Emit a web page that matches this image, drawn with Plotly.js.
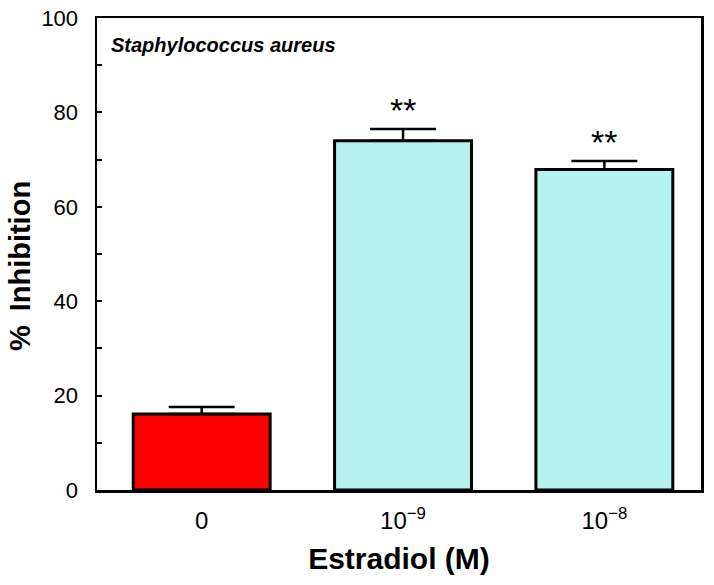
<!DOCTYPE html>
<html>
<head>
<meta charset="utf-8">
<script src="https://cdn.plot.ly/plotly-3.0.1.min.js"></script>
<style>html,body{margin:0;padding:0;background:#fff;}#chart{width:714px;height:585px;}</style>
</head>
<body>
<div id="chart"></div>
<script>
var categories = ["0", "10<sup>\u22129</sup>", "10<sup>\u22128</sup>"];
var inhibition = [16.1, 74.0, 67.9];
var errorsUp = [1.5, 2.5, 1.8];
var barColors = ["#ff0000", "#b5f1ef", "#b5f1ef"];
var significance = ["", "**", "**"];

var trace = {
  type: "bar",
  x: categories,
  y: inhibition,
  width: 0.68,
  marker: {color: barColors, line: {color: "#000", width: 3}},
  error_y: {type: "data", symmetric: false, array: errorsUp, arrayminus: [0,0,0],
            color: "#000", thickness: 2.5, width: 33},
  hoverinfo: "none"
};

var annotations = [];
for (var i = 0; i < categories.length; i++) {
  if (significance[i]) {
    annotations.push({x: categories[i], y: inhibition[i] + errorsUp[i], xref: "x", yref: "y",
      text: significance[i], showarrow: false, yanchor: "bottom", yshift: -2,
      font: {family: "Liberation Sans, Arial, sans-serif", size: 34, color: "#000"}});
  }
}
annotations.push({x: 0, y: 1, xref: "paper", yref: "paper", xanchor: "left", yanchor: "middle",
  xshift: 12, yshift: -27,
  text: "<b><i>Staphylococcus aureus</i></b>", showarrow: false,
  font: {family: "Liberation Sans, Arial, sans-serif", size: 20, color: "#000"}});
annotations.push({x: 0, y: 0.5, xref: "paper", yref: "paper", xanchor: "center", yanchor: "middle",
  xshift: -77, yshift: -12, textangle: -90,
  text: "<b>%\u2009 Inhibition</b>", showarrow: false,
  font: {family: "Liberation Sans, Arial, sans-serif", size: 29, color: "#000"}});

var layout = {
  width: 714, height: 585,
  margin: {l: 97, r: 13, t: 18, b: 95},
  paper_bgcolor: "#fff", plot_bgcolor: "#fff",
  showlegend: false,
  font: {family: "Liberation Sans, Arial, sans-serif", color: "#000"},
  xaxis: {
    type: "category", range: [-0.52, 2.48],
    showline: true, linecolor: "#000", linewidth: 2.5, mirror: true,
    ticks: "", showgrid: false, zeroline: false,
    tickfont: {size: 24, color: "#000"}, ticklabelstandoff: 8,
    title: {text: "<b>Estradiol (M)</b>", font: {size: 30, color: "#000"}, standoff: 15}
  },
  yaxis: {
    range: [0, 100], dtick: 20, tick0: 0,
    showline: true, linecolor: "#000", linewidth: 2.5, mirror: true,
    ticks: "inside", ticklen: 5, tickwidth: 2, tickcolor: "#000",
    minor: {dtick: 10, ticks: "inside", ticklen: 5, tickwidth: 2, tickcolor: "#000", showgrid: false},
    showgrid: false, zeroline: false,
    tickfont: {size: 22, color: "#000"}, ticklabelstandoff: 12
  },
  annotations: annotations
};

Plotly.newPlot("chart", [trace], layout, {staticPlot: true, displayModeBar: false});
</script>
</body>
</html>
